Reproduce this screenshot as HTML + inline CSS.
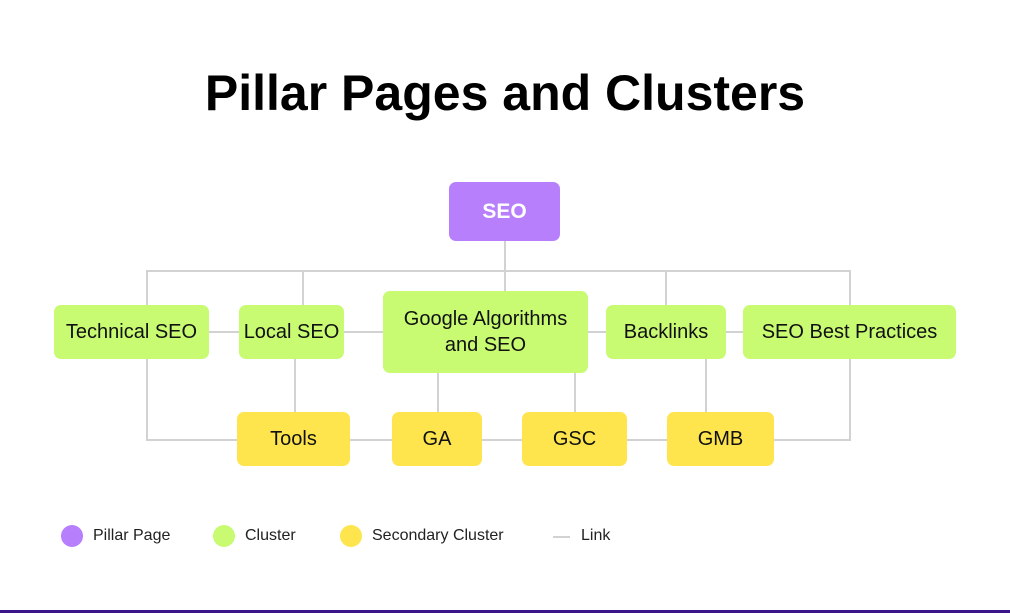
<!DOCTYPE html>
<html><head><style>
body{margin:0;width:1010px;height:613px;background:#fff;position:relative;overflow:hidden;font-family:"Liberation Sans",sans-serif;}
.t{position:absolute;left:0;width:1010px;top:64px;text-align:center;font-weight:bold;font-size:50px;color:#000;letter-spacing:0px}
.b{position:absolute;display:flex;align-items:center;justify-content:center;text-align:center;border-radius:7px;font-size:20px;color:#111;line-height:26px}
.g{background:#c8fa72}.y{background:#ffe54d}
.lg{position:absolute;top:527px;font-size:16px;color:#222}
.c{position:absolute;top:525px;width:22px;height:22px;border-radius:50%}
</style></head><body>
<div class="t">Pillar Pages and Clusters</div>
<svg width="1010" height="613" style="position:absolute;left:0;top:0">
<g stroke="#d2d2d2" stroke-width="2" fill="none">
<line x1="505" y1="241" x2="505" y2="291"/>
<polyline points="147,305 147,271 850,271 850,305"/>
<line x1="303" y1="271" x2="303" y2="305"/>
<line x1="666" y1="271" x2="666" y2="305"/>
<line x1="209" y1="332" x2="743" y2="332"/>
<polyline points="147,359 147,440 850,440 850,359"/>
<line x1="295" y1="359" x2="295" y2="412"/>
<line x1="438" y1="373" x2="438" y2="412"/>
<line x1="575" y1="373" x2="575" y2="412"/>
<line x1="706" y1="359" x2="706" y2="412"/>
<line x1="553" y1="537" x2="570" y2="537"/>
</g>
<rect x="0" y="610" width="1010" height="3" fill="#3b168a"/>
</svg>
<div class="b" style="left:449px;top:182px;width:111px;height:59px;background:#b77ffb;color:#fff;font-weight:bold;font-size:21px">SEO</div>
<div class="b g" style="left:54px;top:305px;width:155px;height:54px">Technical SEO</div>
<div class="b g" style="left:239px;top:305px;width:105px;height:54px">Local SEO</div>
<div class="b g" style="left:383px;top:291px;width:205px;height:82px">Google Algorithms<br>and SEO</div>
<div class="b g" style="left:606px;top:305px;width:120px;height:54px">Backlinks</div>
<div class="b g" style="left:743px;top:305px;width:213px;height:54px">SEO Best Practices</div>
<div class="b y" style="left:237px;top:412px;width:113px;height:54px">Tools</div>
<div class="b y" style="left:392px;top:412px;width:90px;height:54px">GA</div>
<div class="b y" style="left:522px;top:412px;width:105px;height:54px">GSC</div>
<div class="b y" style="left:667px;top:412px;width:107px;height:54px">GMB</div>
<div class="c" style="left:61px;background:#b77ffb"></div><div class="lg" style="left:93px">Pillar Page</div>
<div class="c" style="left:213px;background:#c8fa72"></div><div class="lg" style="left:245px">Cluster</div>
<div class="c" style="left:340px;background:#ffe54d"></div><div class="lg" style="left:372px">Secondary Cluster</div>
<div class="lg" style="left:581px">Link</div>
</body></html>
